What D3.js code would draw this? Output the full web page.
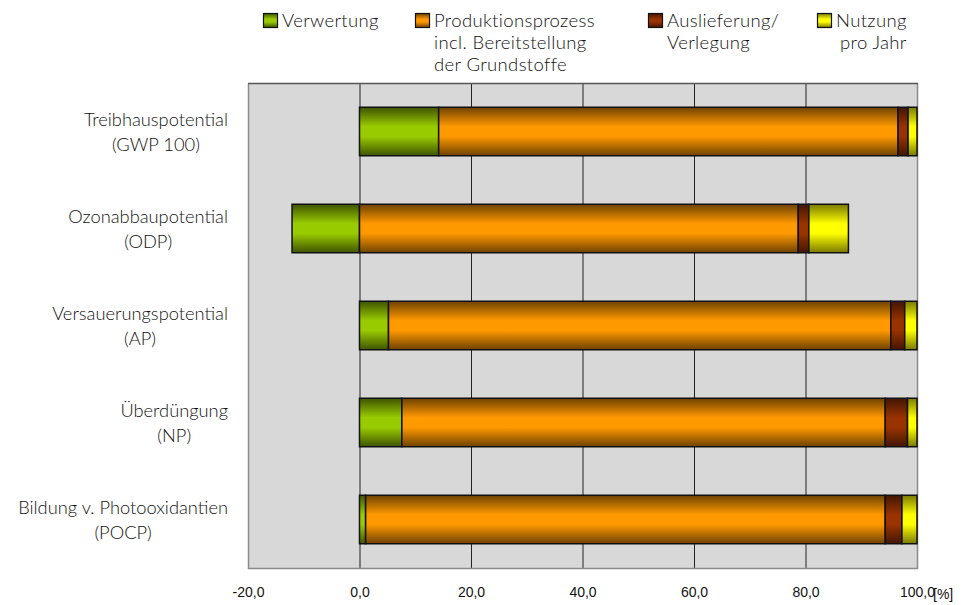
<!DOCTYPE html>
<html>
<head>
<meta charset="utf-8">
<script src="https://cdn.jsdelivr.net/npm/d3@7"></script>
<style>
  body { margin: 0; background: #fff; }
  svg { display: block; }
</style>
</head>
<body>
<svg id="chart" width="967" height="605"></svg>
<script>
// ---- data ----
const categories = [
  ["Treibhauspotential", "(GWP 100)"],
  ["Ozonabbaupotential", "(ODP)"],
  ["Versauerungspotential", "(AP)"],
  ["Überdüngung", "(NP)"],
  ["Bildung v. Photooxidantien", "(POCP)"]
];
const seriesNames = ["Verwertung", "Produktionsprozess incl. Bereitstellung der Grundstoffe", "Auslieferung/ Verlegung", "Nutzung pro Jahr"];
const legendLines = [
  ["Verwertung"],
  ["Produktionsprozess", "incl. Bereitstellung", "der Grundstoffe"],
  ["Auslieferung/", "Verlegung"],
  ["Nutzung", "pro Jahr"]
];
const verwertung   = [14.2, -12.1, 5.2, 7.6, 1.1];
const produktion   = [82.4, 78.7, 90.1, 86.7, 93.2];
const auslieferung = [1.8, 1.9, 2.5, 4.0, 3.0];
const nutzung      = [1.6, 7.1, 2.2, 1.7, 2.7];
const xTicks = [-20, 0, 20, 40, 60, 80, 100];

// ---- style ----
const colors = ["#99cc00", "#ff9900", "#993300", "#ffff00"];
const darks  = ["#3f5400", "#6e4200", "#421600", "#7a7a00"];
const catFont = "Lato, 'Open Sans', sans-serif";
const tickFont = "'Liberation Sans', Arial, Helvetica, sans-serif";

const svg = d3.select("#chart");
const plot = { left: 248, right: 917, top: 83, bottom: 568 };

const x = d3.scaleLinear().domain([-20, 100]).range([plot.left, plot.right]);
const y = d3.scaleBand().domain(d3.range(categories.length)).range([plot.top, plot.bottom]).paddingInner(0.5).paddingOuter(0.25);

// gradients
const defs = svg.append("defs");
colors.forEach((c, i) => {
  const g = defs.append("linearGradient").attr("id", "grad" + i)
    .attr("x1", 0).attr("y1", 0).attr("x2", 0).attr("y2", 1);
  g.append("stop").attr("offset", "0%").attr("stop-color", darks[i]);
  g.append("stop").attr("offset", "40%").attr("stop-color", c);
  g.append("stop").attr("offset", "60%").attr("stop-color", c);
  g.append("stop").attr("offset", "100%").attr("stop-color", darks[i]);
});

// plot background
svg.append("rect")
  .attr("x", plot.left).attr("y", plot.top)
  .attr("width", plot.right - plot.left).attr("height", plot.bottom - plot.top)
  .attr("fill", "#d8d8d8");

// gridlines
svg.append("g").selectAll("line")
  .data(xTicks.filter(t => t > -20 && t < 100))
  .join("line")
  .attr("x1", d => x(d) + 0.5).attr("x2", d => x(d) + 0.5)
  .attr("y1", plot.top).attr("y2", plot.bottom)
  .attr("stroke", "#222").attr("stroke-width", 1);

// border
svg.append("path")
  .attr("d", `M${plot.left + 0.5},${plot.top + 0.5}V${plot.bottom + 0.5}H${plot.right + 0.5}V${plot.top + 0.5}`)
  .attr("fill", "none").attr("stroke", "#8a8a8a").attr("stroke-width", 1.5);
svg.append("line")
  .attr("x1", plot.left).attr("x2", plot.right + 1)
  .attr("y1", plot.top + 0.5).attr("y2", plot.top + 0.5)
  .attr("stroke", "#555").attr("stroke-width", 1.5);

// stacked data
const rows = categories.map((c, i) => ({ i, s0: verwertung[i], s1: produktion[i], s2: auslieferung[i], s3: nutzung[i] }));
const stack = d3.stack().keys(["s0", "s1", "s2", "s3"]).offset(d3.stackOffsetDiverging);
const stacked = stack(rows);

const barG = svg.append("g");
stacked.forEach((layer, k) => {
  barG.append("g").selectAll("rect")
    .data(layer)
    .join("rect")
    .attr("x", d => x(Math.min(d[0], d[1])))
    .attr("y", d => y(d.data.i))
    .attr("width", d => Math.abs(x(d[1]) - x(d[0])))
    .attr("height", y.bandwidth())
    .attr("fill", `url(#grad${k})`)
    .attr("stroke", "#111").attr("stroke-width", 1.5);
});

// x axis labels
const axisG = svg.append("g").attr("transform", `translate(0,${plot.bottom})`);
const xAxis = d3.axisBottom(x).tickValues(xTicks).tickSize(0).tickPadding(19)
  .tickFormat(d => d3.format(".1f")(d).replace(".", ",").replace("\u2212", "-"));
axisG.call(xAxis);
axisG.attr("font-family", tickFont).attr("font-size", 14);
axisG.select(".domain").remove();
axisG.selectAll("text")
  .style("font-family", tickFont)
  .attr("font-size", 14).attr("fill", "#111");
svg.append("text")
  .attr("x", x(100) + 16).attr("y", plot.bottom + 31)
  .style("font-family", tickFont)
  .attr("font-size", 14).attr("fill", "#111")
  .text("[%]");

// category labels
const labelRight = 228;
categories.forEach((lines, i) => {
  const cy = y(i) + y.bandwidth() / 2;
  const g = svg.append("g");
  const texts = lines.map((t, j) => g.append("text")
    .attr("y", cy - 6 + j * 25)
    .style("font-family", catFont).attr("font-size", 18.3)
    .attr("font-weight", 300)
    .attr("fill", "#111").attr("text-anchor", "middle")
    .text(t));
  const maxW = d3.max(texts, t => t.node().getComputedTextLength());
  texts.forEach(t => t.attr("x", labelRight - maxW / 2));
});

// legend
const legendX = [263, 415, 648, 817];
const legendAlign = ["start", "start", "start", "end"];
legendLines.forEach((lines, i) => {
  const g = svg.append("g");
  g.append("rect")
    .attr("x", legendX[i] + 0.5).attr("y", 13.5)
    .attr("width", 14).attr("height", 14)
    .attr("fill", `url(#grad${i})`).attr("stroke", "#111").attr("stroke-width", 1.2);
  const tx = legendX[i] + 19;
  const texts = lines.map((t, j) => g.append("text")
    .attr("x", tx).attr("y", 27 + j * 22)
    .style("font-family", catFont).attr("font-size", 18.5)
    .attr("letter-spacing", 0.35)
    .attr("font-weight", 300)
    .attr("fill", "#111")
    .text(t));
  if (legendAlign[i] === "end") {
    const w0 = texts[0].node().getComputedTextLength();
    texts.forEach(t => t.attr("text-anchor", "end").attr("x", tx + w0));
  }
});
</script>
</body>
</html>
